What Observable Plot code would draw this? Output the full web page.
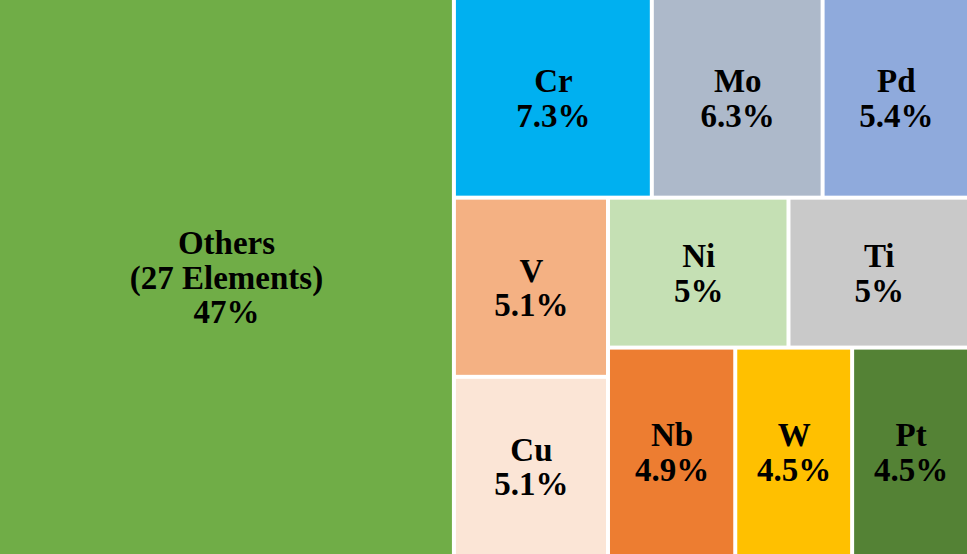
<!DOCTYPE html>
<html>
<head>
<meta charset="utf-8">
<script src="https://cdn.jsdelivr.net/npm/d3@7"></script>
<script src="https://cdn.jsdelivr.net/npm/@observablehq/plot@0.6"></script>
<style>
  html, body { margin: 0; padding: 0; background: #fff; }
  #chart svg { display: block; }
</style>
</head>
<body>
<div id="chart"></div>
<script>
// Data
const names = ["Others\n(27 Elements)", "Cr", "Mo", "Pd", "V", "Cu", "Ni", "Ti", "Nb", "W", "Pt"];
const values = [47, 7.3, 6.3, 5.4, 5.1, 5.1, 5, 5, 4.9, 4.5, 4.5];
const pctLabels = ["47%", "7.3%", "6.3%", "5.4%", "5.1%", "5.1%", "5%", "5%", "4.9%", "4.5%", "4.5%"];
const colors = ["#70AD47", "#00B0F0", "#ADB9CA", "#8FAADC", "#F4B183", "#FBE5D6", "#C5E0B4", "#C9C9C9", "#ED7D31", "#FFC000", "#548235"];

// Grouping structure of the treemap (indices into the arrays above)
const grouping = [0, [[1, 2, 3], [[4, 5], [[6, 7], [8, 9, 10]]]]];

const W = 967, H = 554;

function build(spec) {
  if (Array.isArray(spec)) return {children: spec.map(build)};
  return {i: spec, name: names[spec], value: values[spec], pct: pctLabels[spec], color: colors[spec]};
}

const root = d3.hierarchy(build(grouping)).sum(d => d.value || 0);
d3.treemap().size([W, H]).tile(d3.treemapSliceDice).paddingInner(4).paddingOuter(0).round(false)(root);
const leaves = root.leaves().map(n => ({...n.data, x0: n.x0, x1: n.x1, y0: n.y0, y1: n.y1}));

const chart = Plot.plot({
  width: W,
  height: H,
  margin: 0,
  x: {domain: [0, W], range: [0, W], axis: null},
  y: {domain: [0, H], range: [0, H], axis: null},
  marks: [
    Plot.rect(leaves, {x1: "x0", x2: "x1", y1: "y0", y2: "y1", fill: "color"}),
    Plot.text(leaves, {
      x: d => (d.x0 + d.x1) / 2,
      y: d => (d.y0 + d.y1) / 2,
      text: d => d.name + "\n" + d.pct,
      fill: "#000",
      fontSize: 33,
      fontWeight: "bold",
      fontFamily: "'Liberation Serif', 'Times New Roman', serif",
      lineHeight: 1.05,
      lineAnchor: "middle"
    })
  ]
});
document.getElementById("chart").appendChild(chart);
</script>
</body>
</html>
